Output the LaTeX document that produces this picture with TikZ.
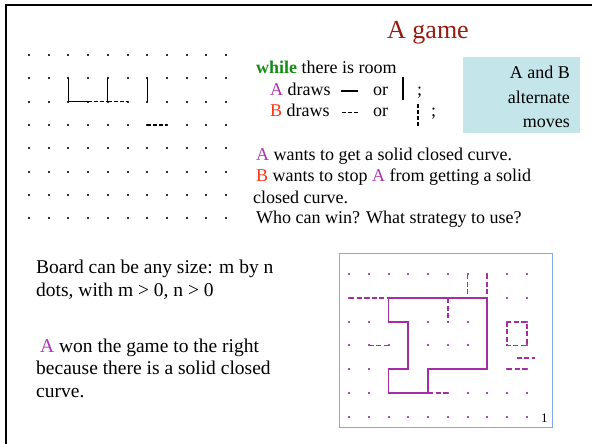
\documentclass[tikz,border=0pt]{standalone}
\usepackage{fontspec}
\setmainfont{Liberation Serif}
\usepackage{xcolor}
\usetikzlibrary{positioning}

\definecolor{titlered}{RGB}{150,28,18}
\definecolor{whilegreen}{RGB}{22,140,22}
\definecolor{playerA}{RGB}{172,52,172}
\definecolor{playerB}{RGB}{250,52,22}
\definecolor{boxcyan}{RGB}{196,230,234}
\definecolor{gridblue}{RGB}{135,165,245}
\definecolor{curvepurple}{RGB}{165,45,165}

\begin{document}
\begin{tikzpicture}[
  x=1pt, y=-1pt,
  txt/.style={inner sep=0pt, anchor=base west, font=\fontsize{18}{21}\selectfont},
  bigtxt/.style={txt, font=\fontsize{19.5}{23}\selectfont},
  boxtxt/.style={txt, anchor=base east},
  dotbox/.style={fill=black!80, inner sep=0pt, minimum size=2pt, anchor=center},
  pdotbox/.style={dotbox, fill=curvepurple!85},
  solidline/.style={line width=1.1pt},
  dashline/.style={line width=1.2pt, dash pattern=on 4pt off 2pt},
  psolid/.style={draw=curvepurple, line width=1.7pt},
  pdash/.style={draw=curvepurple, line width=1.7pt, dash pattern=on 5pt off 2.5pt},
]
  \useasboundingbox (0,0) rectangle (592,444);
  % slide frame
  \draw[line width=2pt] (6,444) -- (6,5) -- (592,5);

  % title
  \node[txt, font=\fontsize{26}{30}\selectfont, text=titlered] (title) at (387,38.5) {A game};

  % left board
  \foreach \i in {0,...,10}
    \foreach \j in {0,...,7} {
      \coordinate (L-\i-\j) at ({29+19.7*\i},{55+23.3*\j});
      \node[dotbox] at (L-\i-\j) {};
    }
  \draw[solidline] (L-2-1) -- (L-2-2) -- (L-3-2);
  \draw[dashline] (L-3-2) -- (L-4-2);
  \draw[solidline] (L-4-1) -- (L-4-2);
  \draw[dashline] (L-4-2) -- (L-5-2);
  \draw[solidline] (L-6-1) -- (L-6-2);
  \draw[dashline] (L-6-3) -- (L-7-3);

  % rules of the game
  \node[txt] (while) at (256,74) {\textbf{\textcolor{whilegreen}{while}} there is room};
  \node[txt] (adraws) at (270,95.7) {\textcolor{playerA}{A} draws};
  \node[txt] (aor) at (373,95.7) {or};
  \node[txt] (asemi) at (417,95.7) {;};
  \node[txt] (bdraws) at (270,116.7) {\textcolor{playerB}{B} draws};
  \node[txt] (bor) at (373,116.7) {or};
  \node[txt] (bsemi) at (431,116.7) {;};
  \draw[line width=1.6pt] (341,91) -- (358,91);
  \draw[line width=1.6pt] (403,77) -- (403,100);
  \draw[line width=1.5pt, dash pattern=on 4pt off 2pt] (342,112.5) -- (358,112.5);
  \draw[line width=1.5pt, dash pattern=on 4pt off 2pt] (418,104) -- (418,126);

  % alternate moves box
  \node[fill=boxcyan, inner sep=0pt, minimum width=117pt, minimum height=76pt, anchor=north west] (movesbox) at (463,57) {};
  \node[boxtxt] (mv1) at (570,78) {A and B};
  \node[boxtxt] (mv2) at (570,103) {alternate};
  \node[boxtxt] (mv3) at (570,127) {moves};

  % goals
  \node[txt] (goalA) at (256,160.7) {\textcolor{playerA}{A} wants to get a solid closed curve.};
  \node[txt] (goalB) at (256,181.7) {\textcolor{playerB}{B} wants to stop \textcolor{playerA}{A} from getting a solid};
  \node[txt] (goalB2) at (253,203) {closed curve.};
  \node[txt] (question) at (256,223) {Who can win? What strategy to use?};

  % board size and result
  \node[bigtxt] (size1) at (36,273) {Board can be any size: m by n};
  \node[bigtxt] (size2) at (36,296) {dots, with m > 0, n > 0};
  \node[bigtxt] (won1) at (40,352) {\textcolor{playerA}{A} won the game to the right};
  \node[bigtxt] (won2) at (36,374) {because there is a solid closed};
  \node[bigtxt] (won3) at (36,397) {curve.};

  % finished board
  \draw[draw=gridblue, line width=1pt] (339,253) rectangle (552,427);
  \foreach \i in {0,...,9}
    \foreach \j in {0,...,6} {
      \coordinate (R-\i-\j) at ({349+19.75*\i},{274.3+23.7*\j});
      \node[pdotbox] at (R-\i-\j) {};
    }
  % A's closed curve
  \draw[psolid] (R-2-1) -- (R-7-1) -- (R-7-4) -- (R-4-4) -- (R-4-5) -- (R-2-5)
    -- (R-2-4) -- (R-3-4) -- (R-3-2) -- (R-2-2) -- cycle;
  % B's moves
  \draw[pdash] (R-0-1) -- (R-2-1);
  \draw[pdash] (R-6-0) -- (R-6-1);
  \draw[pdash] (R-7-0) -- (R-7-1);
  \draw[pdash] (R-5-1) -- (R-5-2);
  \draw[pdash] (R-1-3) -- (R-2-3);
  \draw[pdash] (R-4-5) -- (R-5-5);
  \draw[pdash] (R-8-2) rectangle (R-9-3);
  \draw[pdash] (R-8-4) -- (R-9-4);
  \coordinate (dashL) at (516.7,357.7);
  \coordinate (dashR) at (535,357.7);
  \draw[pdash] (dashL) -- (dashR);

  \node[txt, font=\fontsize{13}{15}\selectfont] (pagenum) at (541,422) {1};
\end{tikzpicture}
\end{document}
